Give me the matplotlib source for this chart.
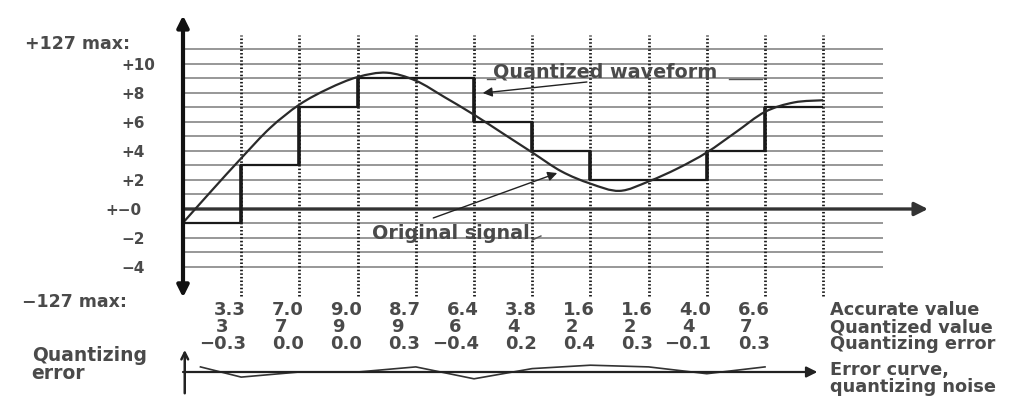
import numpy as np
import matplotlib
matplotlib.use("Agg")
import matplotlib.pyplot as plt
from matplotlib.path import Path
from matplotlib.patches import PathPatch

# ---------------- data ----------------
sample_index = list(range(1, 11))
accurate_values = [3.3, 7.0, 9.0, 8.7, 6.4, 3.8, 1.6, 1.6, 4.0, 6.6]
quantized_values = [3, 7, 9, 9, 6, 4, 2, 2, 4, 7]
quantizing_errors = [-0.3, 0.0, 0.0, 0.3, -0.4, 0.2, 0.4, 0.3, -0.1, 0.3]
start_level = -1

level_ticks = [10, 8, 6, 4, 2, 0, -2, -4]
level_labels = ["+10", "+8", "+6", "+4", "+2", "+\u22120", "\u22122", "\u22124"]
grid_levels = list(range(-4, 12))

# original (analog) signal
signal_t = [0, 0.5, 1, 1.5, 2, 2.5, 3, 3.5, 4, 4.5, 5, 5.5, 6, 6.5, 7, 7.5,
            8, 8.5, 9, 9.5, 10, 10.5, 11]
signal_v = [-0.95, 1.3, 3.5, 5.6, 7.2, 8.3, 9.1, 9.4, 8.85, 7.7, 6.5, 5.2,
            3.9, 2.6, 1.75, 1.25, 1.9, 2.8, 3.9, 5.3, 6.7, 7.35, 7.5]

error_t = [0.3] + sample_index
error_v = [0.3] + quantizing_errors

row_names = ["Accurate value", "Quantized value", "Quantizing error"]

# ---------------- style ----------------
INK = "#1a1a1a"
TXT = "#4a4a4a"
GRID = "#7a7a7a"
FONT = dict(family="DejaVu Sans", fontweight="bold", color=TXT)


def smooth_path(xs, ys):
    pts = np.column_stack([xs, ys]).astype(float)
    P = np.vstack([pts[0], pts, pts[-1]])
    verts = [pts[0]]
    codes = [Path.MOVETO]
    for i in range(1, len(P) - 2):
        p0, p1, p2, p3 = P[i - 1], P[i], P[i + 1], P[i + 2]
        verts += [p1 + (p2 - p0) / 6.0, p2 - (p3 - p1) / 6.0, p2]
        codes += [Path.CURVE4] * 3
    return Path(verts, codes)


W, H = 1017, 405
fig = plt.figure(figsize=(W / 100, H / 100), dpi=100)
fig.patch.set_facecolor("white")

X0, DX = 183.0, 58.2      # pixel of t=0, pixels per sample
Y0, DY = 209.0, 14.5      # pixel of level 0, pixels per level

ax = fig.add_axes([0, 0, 1, 1])
ax.set_xlim(-X0 / DX, (W - X0) / DX)
ax.set_ylim(-(H - Y0) / DY, Y0 / DY)
ax.axis("off")

n_cols = len(sample_index) + 1

# horizontal level lines
ax.hlines(grid_levels, 0, 12.03, color=GRID, lw=1.1, zorder=1)

# dotted sampling lines
ax.vlines(list(range(1, n_cols + 1)), -6.0, 12.0, color=INK, lw=2.0,
          linestyles=(0, (0.55, 0.75)), zorder=2)

# zero axis with arrow
ax.annotate("", xy=(12.8, 0), xytext=(0, 0),
            arrowprops=dict(arrowstyle="-|>", lw=2.4, color="#333333",
                            mutation_scale=20, shrinkA=0, shrinkB=0),
            zorder=3)

# vertical main axis, double arrow
ax.annotate("", xy=(0, 13.35), xytext=(0, -6.1),
            arrowprops=dict(arrowstyle="<|-|>", lw=3.0, color="#111111",
                            mutation_scale=17, shrinkA=0, shrinkB=0),
            zorder=5)

# quantized waveform (stairs)
levels = [start_level] + quantized_values
edges = np.arange(len(levels) + 1)
ax.stairs(levels, edges, baseline=None, color=INK, lw=1.6, zorder=4)
for i in range(1, len(levels)):
    if levels[i] != levels[i - 1]:
        ax.vlines(i, levels[i - 1], levels[i], color=INK, lw=2.6, zorder=4)

# original signal
ax.add_patch(PathPatch(smooth_path(signal_t, signal_v), fill=False,
                       edgecolor="#2a2a2a", lw=1.6, zorder=4))

# level labels
for lv, lab in zip(level_ticks, level_labels):
    xl = -1.06 if lab != "+\u22120" else -1.33
    ax.text(xl, lv - 0.12, lab, ha="left", va="center", fontsize=11, **FONT)
ax.text(-2.72, 11.4, "+127 max:", ha="left", va="center", fontsize=12.5, **FONT)
ax.text(-2.77, -6.4, "\u2212127 max:", ha="left", va="center", fontsize=12.5, **FONT)

# value table
row_y = [-6.97, -8.14, -9.31]
for t, a, q, e in zip(sample_index, accurate_values, quantized_values,
                      quantizing_errors):
    ax.text(t + 0.08, row_y[0], f"{a:.1f}", ha="right", va="center",
            fontsize=13, **FONT)
    ax.text(t - 0.43, row_y[1], f"{q:d}", ha="left", va="center",
            fontsize=13, **FONT)
    ax.text(t + 0.08, row_y[2], f"{e:.1f}".replace("-", "\u2212"),
            ha="right", va="center", fontsize=13, **FONT)
for yy, name in zip(row_y, row_names):
    ax.text(11.12, yy, name, ha="left", va="center", fontsize=12.8, **FONT)

ax.text(11.12, -11.1, "Error curve,", ha="left", va="center", fontsize=12.8, **FONT)
ax.text(11.12, -12.28, "quantizing noise", ha="left", va="center", fontsize=12.8, **FONT)
ax.text(-2.6, -10.72, "Quantizing\nerror", ha="left", va="center",
        fontsize=13.5, linespacing=0.95, **FONT)

# annotations
ax.text(5.33, 9.45, "Quantized waveform", ha="left", va="center",
        fontsize=13.8, **FONT)
ax.plot([5.22, 5.36], [8.95, 8.95], color="#555555", lw=1.0, zorder=4)
ax.plot([9.38, 9.95], [8.95, 8.95], color="#555555", lw=1.0, zorder=4)
ax.annotate("", xy=(5.15, 8.0), xytext=(6.94, 8.76),
            arrowprops=dict(arrowstyle="-|>", lw=1.0, color="#222222",
                            mutation_scale=14, shrinkA=0, shrinkB=0),
            zorder=6)

ax.text(3.25, -1.66, "Original signal", ha="left", va="center",
        fontsize=13.8, **FONT)
ax.plot([6.0, 6.15], [-2.14, -1.86], color="#555555", lw=1.0, zorder=4)
ax.annotate("", xy=(6.43, 2.48), xytext=(4.30, -0.62),
            arrowprops=dict(arrowstyle="-|>", lw=1.0, color="#222222",
                            mutation_scale=14, shrinkA=0, shrinkB=0),
            zorder=6)

# ---------------- error panel ----------------
EY0, EDY = 372.0, 17.0
ax2 = fig.add_axes([0, 0, 1, 1])
ax2.patch.set_alpha(0)
ax2.set_xlim(ax.get_xlim())
ax2.set_ylim(-(H - EY0) / EDY, EY0 / EDY)
ax2.axis("off")

ax2.annotate("", xy=(10.9, 0), xytext=(0, 0),
             arrowprops=dict(arrowstyle="-|>", lw=1.6, color="#222222",
                             mutation_scale=16, shrinkA=0, shrinkB=0))
ax2.annotate("", xy=(0.03, 1.3), xytext=(0.03, -1.25),
             arrowprops=dict(arrowstyle="->", lw=1.8, color="#222222",
                             mutation_scale=12, shrinkA=0, shrinkB=0))
ax2.plot(error_t, error_v, color="#333333", lw=1.2)

fig.savefig("out.png", dpi=100, facecolor="white")
